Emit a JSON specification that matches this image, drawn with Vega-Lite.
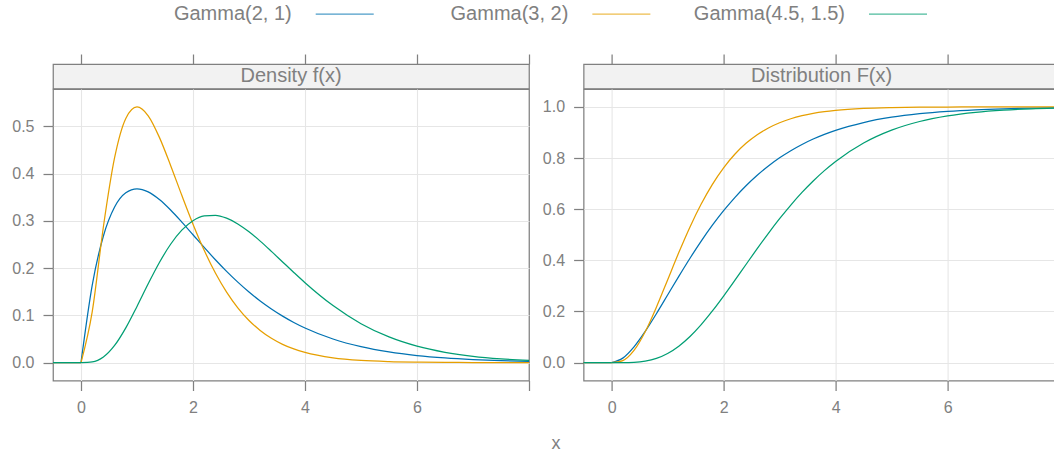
{
  "$schema": "https://vega.github.io/schema/vega-lite/v6.json",
  "padding": {"left": 11, "top": 0, "right": 0, "bottom": 0},
  "config": {
    "font": "Liberation Sans",
    "view": {"stroke": null},
    "axis": {
      "domain": false,
      "labelColor": "#808080",
      "labelFontSize": 16,
      "tickColor": "#808080",
      "tickSize": 10,
      "tickWidth": 1.25,
      "labelPadding": 9,
      "gridColor": "#e6e6e6",
      "gridWidth": 1.1,
      "title": null
    }
  },
  "title": {"text": "x", "orient": "bottom", "anchor": "middle", "dx": 19, "offset": 19, "fontSize": 18, "fontWeight": "normal", "color": "#808080"},
  "datasets": {
    "leg": [{"s": "Gamma(2, 1)"}, {"s": "Gamma(3, 2)"}, {"s": "Gamma(4.5, 1.5)"}],
    "g": [
      {"s": "Gamma(2, 1)", "seg": "n", "x": -0.5, "f": 0, "F": 0},
      {"s": "Gamma(2, 1)", "seg": "n", "x": 0, "f": 0, "F": 0},
      {"s": "Gamma(2, 1)", "seg": "p", "x": 0, "f": 0, "F": 0},
      {"s": "Gamma(2, 1)", "seg": "p", "x": 0.2, "f": 0.1637, "F": 0.0175},
      {"s": "Gamma(2, 1)", "seg": "p", "x": 0.4, "f": 0.2681, "F": 0.0616},
      {"s": "Gamma(2, 1)", "seg": "p", "x": 0.6, "f": 0.3293, "F": 0.1219},
      {"s": "Gamma(2, 1)", "seg": "p", "x": 0.8, "f": 0.3595, "F": 0.1912},
      {"s": "Gamma(2, 1)", "seg": "p", "x": 1.0, "f": 0.3679, "F": 0.2642},
      {"s": "Gamma(2, 1)", "seg": "p", "x": 1.2, "f": 0.3614, "F": 0.3374},
      {"s": "Gamma(2, 1)", "seg": "p", "x": 1.4, "f": 0.3452, "F": 0.4082},
      {"s": "Gamma(2, 1)", "seg": "p", "x": 1.6, "f": 0.3230, "F": 0.4751},
      {"s": "Gamma(2, 1)", "seg": "p", "x": 1.8, "f": 0.2975, "F": 0.5372},
      {"s": "Gamma(2, 1)", "seg": "p", "x": 2.0, "f": 0.2707, "F": 0.5940},
      {"s": "Gamma(2, 1)", "seg": "p", "x": 2.2, "f": 0.2438, "F": 0.6454},
      {"s": "Gamma(2, 1)", "seg": "p", "x": 2.4, "f": 0.2177, "F": 0.6916},
      {"s": "Gamma(2, 1)", "seg": "p", "x": 2.6, "f": 0.1931, "F": 0.7326},
      {"s": "Gamma(2, 1)", "seg": "p", "x": 2.8, "f": 0.1703, "F": 0.7689},
      {"s": "Gamma(2, 1)", "seg": "p", "x": 3.0, "f": 0.1494, "F": 0.8009},
      {"s": "Gamma(2, 1)", "seg": "p", "x": 3.2, "f": 0.1304, "F": 0.8288},
      {"s": "Gamma(2, 1)", "seg": "p", "x": 3.4, "f": 0.1135, "F": 0.8532},
      {"s": "Gamma(2, 1)", "seg": "p", "x": 3.6, "f": 0.0984, "F": 0.8743},
      {"s": "Gamma(2, 1)", "seg": "p", "x": 3.8, "f": 0.0850, "F": 0.8926},
      {"s": "Gamma(2, 1)", "seg": "p", "x": 4.0, "f": 0.0733, "F": 0.9084},
      {"s": "Gamma(2, 1)", "seg": "p", "x": 4.5, "f": 0.0500, "F": 0.9389},
      {"s": "Gamma(2, 1)", "seg": "p", "x": 5.0, "f": 0.0337, "F": 0.9596},
      {"s": "Gamma(2, 1)", "seg": "p", "x": 5.5, "f": 0.0225, "F": 0.9734},
      {"s": "Gamma(2, 1)", "seg": "p", "x": 6.0, "f": 0.0149, "F": 0.9826},
      {"s": "Gamma(2, 1)", "seg": "p", "x": 6.5, "f": 0.0098, "F": 0.9887},
      {"s": "Gamma(2, 1)", "seg": "p", "x": 7.0, "f": 0.0064, "F": 0.9927},
      {"s": "Gamma(2, 1)", "seg": "p", "x": 7.5, "f": 0.0041, "F": 0.9953},
      {"s": "Gamma(2, 1)", "seg": "p", "x": 8.0, "f": 0.0027, "F": 0.9970},
      {"s": "Gamma(3, 2)", "seg": "n", "x": -0.5, "f": 0, "F": 0},
      {"s": "Gamma(3, 2)", "seg": "n", "x": 0, "f": 0, "F": 0},
      {"s": "Gamma(3, 2)", "seg": "p", "x": 0, "f": 0, "F": 0},
      {"s": "Gamma(3, 2)", "seg": "p", "x": 0.2, "f": 0.1073, "F": 0.0079},
      {"s": "Gamma(3, 2)", "seg": "p", "x": 0.4, "f": 0.2876, "F": 0.0474},
      {"s": "Gamma(3, 2)", "seg": "p", "x": 0.6, "f": 0.4337, "F": 0.1205},
      {"s": "Gamma(3, 2)", "seg": "p", "x": 0.8, "f": 0.5169, "F": 0.2166},
      {"s": "Gamma(3, 2)", "seg": "p", "x": 1.0, "f": 0.5413, "F": 0.3233},
      {"s": "Gamma(3, 2)", "seg": "p", "x": 1.2, "f": 0.5225, "F": 0.4303},
      {"s": "Gamma(3, 2)", "seg": "p", "x": 1.4, "f": 0.4768, "F": 0.5306},
      {"s": "Gamma(3, 2)", "seg": "p", "x": 1.6, "f": 0.4174, "F": 0.6201},
      {"s": "Gamma(3, 2)", "seg": "p", "x": 1.8, "f": 0.3541, "F": 0.6973},
      {"s": "Gamma(3, 2)", "seg": "p", "x": 2.0, "f": 0.2931, "F": 0.7619},
      {"s": "Gamma(3, 2)", "seg": "p", "x": 2.2, "f": 0.2377, "F": 0.8149},
      {"s": "Gamma(3, 2)", "seg": "p", "x": 2.4, "f": 0.1896, "F": 0.8575},
      {"s": "Gamma(3, 2)", "seg": "p", "x": 2.6, "f": 0.1492, "F": 0.8912},
      {"s": "Gamma(3, 2)", "seg": "p", "x": 2.8, "f": 0.1160, "F": 0.9176},
      {"s": "Gamma(3, 2)", "seg": "p", "x": 3.0, "f": 0.0892, "F": 0.9380},
      {"s": "Gamma(3, 2)", "seg": "p", "x": 3.2, "f": 0.0681, "F": 0.9537},
      {"s": "Gamma(3, 2)", "seg": "p", "x": 3.4, "f": 0.0515, "F": 0.9656},
      {"s": "Gamma(3, 2)", "seg": "p", "x": 3.6, "f": 0.0387, "F": 0.9745},
      {"s": "Gamma(3, 2)", "seg": "p", "x": 3.8, "f": 0.0289, "F": 0.9812},
      {"s": "Gamma(3, 2)", "seg": "p", "x": 4.0, "f": 0.0215, "F": 0.9862},
      {"s": "Gamma(3, 2)", "seg": "p", "x": 4.5, "f": 0.0100, "F": 0.9938},
      {"s": "Gamma(3, 2)", "seg": "p", "x": 5.0, "f": 0.0045, "F": 0.9972},
      {"s": "Gamma(3, 2)", "seg": "p", "x": 5.5, "f": 0.0020, "F": 0.9988},
      {"s": "Gamma(3, 2)", "seg": "p", "x": 6.0, "f": 0.0009, "F": 0.9995},
      {"s": "Gamma(3, 2)", "seg": "p", "x": 6.5, "f": 0.0004, "F": 0.9998},
      {"s": "Gamma(3, 2)", "seg": "p", "x": 7.0, "f": 0.0002, "F": 0.9999},
      {"s": "Gamma(3, 2)", "seg": "p", "x": 7.5, "f": 0.0001, "F": 1.0},
      {"s": "Gamma(3, 2)", "seg": "p", "x": 8.0, "f": 0.0000, "F": 1.0},
      {"s": "Gamma(4.5, 1.5)", "seg": "n", "x": -0.5, "f": 0, "F": 0},
      {"s": "Gamma(4.5, 1.5)", "seg": "n", "x": 0, "f": 0, "F": 0},
      {"s": "Gamma(4.5, 1.5)", "seg": "p", "x": 0, "f": 0, "F": 0},
      {"s": "Gamma(4.5, 1.5)", "seg": "p", "x": 0.2, "f": 0.0014, "F": 0.0001},
      {"s": "Gamma(4.5, 1.5)", "seg": "p", "x": 0.4, "f": 0.0118, "F": 0.0012},
      {"s": "Gamma(4.5, 1.5)", "seg": "p", "x": 0.6, "f": 0.0363, "F": 0.0058},
      {"s": "Gamma(4.5, 1.5)", "seg": "p", "x": 0.8, "f": 0.0735, "F": 0.0165},
      {"s": "Gamma(4.5, 1.5)", "seg": "p", "x": 1.0, "f": 0.1189, "F": 0.0357},
      {"s": "Gamma(4.5, 1.5)", "seg": "p", "x": 1.2, "f": 0.1668, "F": 0.0643},
      {"s": "Gamma(4.5, 1.5)", "seg": "p", "x": 1.4, "f": 0.2119, "F": 0.1022},
      {"s": "Gamma(4.5, 1.5)", "seg": "p", "x": 1.6, "f": 0.2505, "F": 0.1486},
      {"s": "Gamma(4.5, 1.5)", "seg": "p", "x": 1.8, "f": 0.2803, "F": 0.2019},
      {"s": "Gamma(4.5, 1.5)", "seg": "p", "x": 2.0, "f": 0.3003, "F": 0.2601},
      {"s": "Gamma(4.5, 1.5)", "seg": "p", "x": 2.2, "f": 0.3105, "F": 0.3213},
      {"s": "Gamma(4.5, 1.5)", "seg": "p", "x": 2.4, "f": 0.3119, "F": 0.3837},
      {"s": "Gamma(4.5, 1.5)", "seg": "p", "x": 2.6, "f": 0.3058, "F": 0.4456},
      {"s": "Gamma(4.5, 1.5)", "seg": "p", "x": 2.8, "f": 0.2936, "F": 0.5056},
      {"s": "Gamma(4.5, 1.5)", "seg": "p", "x": 3.0, "f": 0.2769, "F": 0.5627},
      {"s": "Gamma(4.5, 1.5)", "seg": "p", "x": 3.2, "f": 0.2572, "F": 0.6162},
      {"s": "Gamma(4.5, 1.5)", "seg": "p", "x": 3.4, "f": 0.2355, "F": 0.6655},
      {"s": "Gamma(4.5, 1.5)", "seg": "p", "x": 3.6, "f": 0.2131, "F": 0.7103},
      {"s": "Gamma(4.5, 1.5)", "seg": "p", "x": 3.8, "f": 0.1908, "F": 0.7507},
      {"s": "Gamma(4.5, 1.5)", "seg": "p", "x": 4.0, "f": 0.1691, "F": 0.7867},
      {"s": "Gamma(4.5, 1.5)", "seg": "p", "x": 4.5, "f": 0.1207, "F": 0.8587},
      {"s": "Gamma(4.5, 1.5)", "seg": "p", "x": 5.0, "f": 0.0824, "F": 0.9091},
      {"s": "Gamma(4.5, 1.5)", "seg": "p", "x": 5.5, "f": 0.0543, "F": 0.9429},
      {"s": "Gamma(4.5, 1.5)", "seg": "p", "x": 6.0, "f": 0.0348, "F": 0.9648},
      {"s": "Gamma(4.5, 1.5)", "seg": "p", "x": 6.5, "f": 0.0218, "F": 0.9787},
      {"s": "Gamma(4.5, 1.5)", "seg": "p", "x": 7.0, "f": 0.0133, "F": 0.9873},
      {"s": "Gamma(4.5, 1.5)", "seg": "p", "x": 7.5, "f": 0.0080, "F": 0.9926},
      {"s": "Gamma(4.5, 1.5)", "seg": "p", "x": 8.0, "f": 0.0047, "F": 0.9957}
    ]
  },
  "bounds": "flush",
  "spacing": 36,
  "vconcat": [
    {
      "width": 1006.6,
      "height": 28,
      "data": {"name": "leg"},
      "encoding": {
        "x": {"field": "s", "type": "nominal", "scale": {"type": "point", "domain": ["Gamma(2, 1)", "Gamma(3, 2)", "Gamma(4.5, 1.5)"], "padding": 0.8193, "align": 0.5266}, "axis": null}
      },
      "layer": [
        {"mark": {"type": "text", "align": "right", "baseline": "middle", "fontSize": 20, "color": "#808080"}, "encoding": {"text": {"field": "s"}}},
        {"mark": {"type": "tick", "orient": "horizontal", "size": 58, "thickness": 1.25, "xOffset": 53},
         "encoding": {"color": {"field": "s", "type": "nominal", "scale": {"domain": ["Gamma(2, 1)", "Gamma(3, 2)", "Gamma(4.5, 1.5)"], "range": ["#0072B2", "#E69F00", "#009E73"]}, "legend": null}}}
      ]
    },
    {
      "bounds": "flush",
      "columns": 2,
      "spacing": {"row": 0, "column": 54.6},
      "concat": [
        {"width": 476, "height": 24.5, "view": {"fill": "#f2f2f2", "stroke": "#808080", "strokeWidth": 1.25},
         "layer": [
           {"data": {"values": [{"t": "Density f(x)"}]},
            "mark": {"type": "text", "fontSize": 20, "color": "#808080", "baseline": "middle"},
            "encoding": {"text": {"field": "t"}}},
           {"data": {"name": "g"},
            "mark": {"type": "tick", "opacity": 0},
            "encoding": {"x": {"field": "x", "type": "quantitative", "scale": {"domain": [-0.5, 8], "nice": false, "zero": false},
              "axis": {"orient": "top", "values": [0, 2, 4, 6, 8], "labels": false, "grid": false}}}}
         ]},
        {"width": 476, "height": 24.5, "view": {"fill": "#f2f2f2", "stroke": "#808080", "strokeWidth": 1.25},
         "layer": [
           {"data": {"values": [{"t": "Distribution F(x)"}]},
            "mark": {"type": "text", "fontSize": 20, "color": "#808080", "baseline": "middle"},
            "encoding": {"text": {"field": "t"}}},
           {"data": {"name": "g"},
            "mark": {"type": "tick", "opacity": 0},
            "encoding": {"x": {"field": "x", "type": "quantitative", "scale": {"domain": [-0.5, 8], "nice": false, "zero": false},
              "axis": {"orient": "top", "values": [0, 2, 4, 6, 8], "labels": false, "grid": false}}}}
         ]},
        {"width": 476, "height": 291.5, "view": {"stroke": "#808080", "strokeWidth": 1.25},
         "data": {"name": "g"},
         "mark": {"type": "line", "interpolate": "monotone", "strokeWidth": 1.25},
         "encoding": {
           "x": {"field": "x", "type": "quantitative", "scale": {"domain": [-0.5, 8], "nice": false, "zero": false},
                 "axis": {"values": [0, 2, 4, 6, 8], "labelExpr": "datum.value == 8 ? '' : datum.label", "grid": true, "gridOpacity": {"condition": {"test": "datum.value == 8", "value": 0}, "value": 1}}},
           "y": {"field": "f", "type": "quantitative", "scale": {"domain": [-0.0379, 0.5792], "nice": false, "zero": false},
                 "axis": {"values": [0, 0.1, 0.2, 0.3, 0.4, 0.5], "format": ".1f", "grid": true}},
           "color": {"field": "s", "type": "nominal", "scale": {"domain": ["Gamma(2, 1)", "Gamma(3, 2)", "Gamma(4.5, 1.5)"], "range": ["#0072B2", "#E69F00", "#009E73"]}, "legend": null},
           "detail": {"field": "seg"}
         }},
        {"width": 476, "height": 291.5, "view": {"stroke": "#808080", "strokeWidth": 1.25},
         "data": {"name": "g"},
         "mark": {"type": "line", "interpolate": "monotone", "strokeWidth": 1.25},
         "encoding": {
           "x": {"field": "x", "type": "quantitative", "scale": {"domain": [-0.5, 8], "nice": false, "zero": false},
                 "axis": {"values": [0, 2, 4, 6, 8], "labelExpr": "datum.value == 8 ? '' : datum.label", "grid": true, "gridOpacity": {"condition": {"test": "datum.value == 8", "value": 0}, "value": 1}}},
           "y": {"field": "F", "type": "quantitative", "scale": {"domain": [-0.07, 1.07], "nice": false, "zero": false},
                 "axis": {"values": [0, 0.2, 0.4, 0.6, 0.8, 1.0], "format": ".1f", "grid": true}},
           "color": {"field": "s", "type": "nominal", "scale": {"domain": ["Gamma(2, 1)", "Gamma(3, 2)", "Gamma(4.5, 1.5)"], "range": ["#0072B2", "#E69F00", "#009E73"]}, "legend": null},
           "detail": {"field": "seg"}
         }}
      ]
    }
  ]
}
